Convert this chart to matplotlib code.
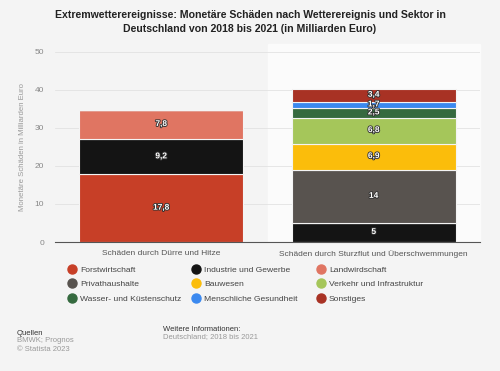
import matplotlib
matplotlib.use("Agg")
import matplotlib.pyplot as plt
import matplotlib.patheffects as pe
from matplotlib.lines import Line2D

plt.rcParams["font.family"] = ["Liberation Sans", "DejaVu Sans"]

categories = ["Schäden durch Dürre und Hitze", "Schäden durch Sturzflut und Überschwemmungen"]
sectors = ["Forstwirtschaft", "Industrie und Gewerbe", "Landwirdschaft",
           "Privathaushalte", "Bauwesen", "Verkehr und Infrastruktur",
           "Wasser- und Küstenschutz", "Menschliche Gesundheit", "Sonstiges"]
colors = ["#c73f27", "#141414", "#e07562", "#58534f", "#fbbd0b", "#a5c65a",
          "#356a3f", "#3b89ef", "#a83224"]
# values per sector for [Dürre, Sturzflut]
values = {
    "Forstwirtschaft": [17.8, 0],
    "Industrie und Gewerbe": [9.2, 5],
    "Landwirdschaft": [7.8, 0],
    "Privathaushalte": [0, 14],
    "Bauwesen": [0, 6.9],
    "Verkehr und Infrastruktur": [0, 6.8],
    "Wasser- und Küstenschutz": [0, 2.5],
    "Menschliche Gesundheit": [0, 1.7],
    "Sonstiges": [0, 3.4],
}
yticks = [0, 10, 20, 30, 40, 50]

bg = "#f4f4f4"
fig = plt.figure(figsize=(5, 3.71), dpi=100, facecolor=bg)
ax = fig.add_axes([0.11, 0.3477, 0.85, 0.5125])
ax.set_facecolor(bg)
ax.axvspan(0.5, 1.5, ymax=1.04, color="#fbfbfb", zorder=0, clip_on=False)

x = list(range(len(categories)))
bottoms = [0.0, 0.0]
for s, c in zip(sectors, colors):
    v = values[s]
    ax.bar(x, v, bottom=bottoms, width=0.77, color=c, edgecolor=bg,
           linewidth=0.8, zorder=3)
    for i, val in enumerate(v):
        if val > 0:
            ax.text(i, bottoms[i] + val / 2, f"{val:g}".replace(".", ","),
                    ha="center", va="center", fontsize=6, color="white",
                    fontweight="bold", zorder=5,
                    path_effects=[pe.withStroke(linewidth=1.3, foreground="#333333")])
    bottoms = [b + val for b, val in zip(bottoms, v)]

ax.set_xlim(-0.5, 1.5)
ax.set_ylim(0, 50)
ax.set_yticks(yticks)
ax.set_yticklabels([str(t) for t in yticks], fontsize=6, color="#888888")
ax.set_xticks(x)
ax.set_xticklabels(categories, fontsize=6, color="#555555")
ax.tick_params(axis="x", length=0, pad=6)
ax.tick_params(axis="y", length=0, pad=8)
ax.grid(axis="y", color="#e2e2e2", linewidth=0.6, zorder=1)
for sp in ["top", "right", "left"]:
    ax.spines[sp].set_visible(False)
ax.spines["bottom"].set_color("#555555")
ax.spines["bottom"].set_linewidth(0.8)
ax.spines["bottom"].set_zorder(4)
ax.set_ylabel("Monetäre Schäden in Milliarden Euro", fontsize=5.6, color="#999999", labelpad=6)

fig.text(0.5, 0.972, "Extremwetterereignisse: Monetäre Schäden nach Wetterereignis und Sektor in\nDeutschland von 2018 bis 2021 (in Milliarden Euro)",
         ha="center", va="top", fontsize=7.6, fontweight="bold", color="#222222", linespacing=1.5)

# legend: three columns placed like the reference
col_x = [0.133, 0.381, 0.631]
for ci, cx in enumerate(col_x):
    idx = [ci, ci + 3, ci + 6]
    handles = [Line2D([0], [0], marker="o", color="none", markerfacecolor=colors[k],
                      markeredgecolor=colors[k], markersize=6.5) for k in idx]
    leg = fig.legend(handles, [sectors[k] for k in idx], loc="upper left",
                     bbox_to_anchor=(cx, 0.284), frameon=False, fontsize=6.1,
                     handletextpad=0.3, labelspacing=0.78, handlelength=1.3,
                     borderpad=0, borderaxespad=0)
    for t in leg.get_texts():
        t.set_color("#444444")

fig.text(0.034, 0.1024, "Quellen", fontsize=5.5, color="#333333", va="center")
fig.text(0.034, 0.081, "BMWK; Prognos", fontsize=5.5, color="#999999", va="center")
fig.text(0.034, 0.059, "© Statista 2023", fontsize=5.5, color="#999999", va="center")
fig.text(0.326, 0.113, "Weitere Informationen:", fontsize=5.5, color="#333333", va="center")
fig.text(0.326, 0.092, "Deutschland; 2018 bis 2021", fontsize=5.5, color="#999999", va="center")

fig.savefig("out.png", dpi=100, facecolor=bg)
